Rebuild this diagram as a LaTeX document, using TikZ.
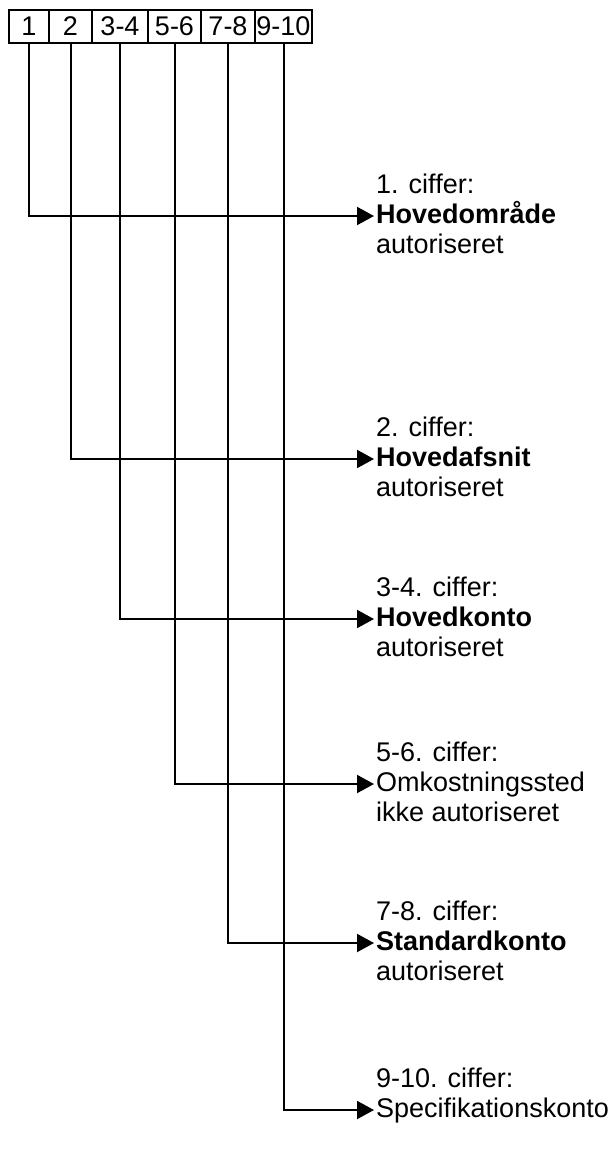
\documentclass[tikz,border=0pt]{standalone}
\usepackage{fontspec}
\setmainfont{Liberation Sans}
\usetikzlibrary{arrows.meta}

\tikzset{
  cell/.style={draw, line width=2pt, minimum height=33pt, inner sep=0pt,
    font=\fontsize{27}{30}\selectfont},
  lbl/.style={inner sep=0pt, anchor=base west, font=\fontsize{27}{30}\selectfont},
  link/.style={line width=2pt, -{Triangle[length=17pt,width=18pt]}},
}

\begin{document}
\begin{tikzpicture}[x=1pt,y=-1pt]
\useasboundingbox (0,0) rectangle (613,1162);

% digit groups of the account number
\node[cell, minimum width=40pt] (c1) at (29,26.5) {1};
\node[cell, minimum width=43pt] (c2) at (70.5,26.5) {2};
\node[cell, minimum width=56pt] (c3) at (120,26.5) {3-4};
\node[cell, minimum width=53pt] (c4) at (174.5,26.5) {5-6};
\node[cell, minimum width=54pt] (c5) at (228,26.5) {7-8};
\node[cell, minimum width=57pt] (c6) at (283.5,26.5) {9-10};

% arrow tips
\coordinate (a1) at (374,216);
\coordinate (a2) at (374,459);
\coordinate (a3) at (374,619);
\coordinate (a4) at (374,784);
\coordinate (a5) at (374,943);
\coordinate (a6) at (374,1110);

% descriptions
\node[lbl] (m1) at ([xshift=2pt,yshift=-7pt]a1) {\textbf{Hovedområde}};
\node[lbl] (h1) at ([yshift=30pt]m1.base west) {1. ciffer:};
\node[lbl] (b1) at ([yshift=-30pt]m1.base west) {autoriseret};

\node[lbl] (m2) at ([xshift=2pt,yshift=-7pt]a2) {\textbf{Hovedafsnit}};
\node[lbl] (h2) at ([yshift=30pt]m2.base west) {2. ciffer:};
\node[lbl] (b2) at ([yshift=-30pt]m2.base west) {autoriseret};

\node[lbl] (m3) at ([xshift=2pt,yshift=-7pt]a3) {\textbf{Hovedkonto}};
\node[lbl] (h3) at ([yshift=30pt]m3.base west) {3-4. ciffer:};
\node[lbl] (b3) at ([yshift=-30pt]m3.base west) {autoriseret};

\node[lbl] (m4) at ([xshift=2pt,yshift=-7pt]a4) {Omkostningssted};
\node[lbl] (h4) at ([yshift=30pt]m4.base west) {5-6. ciffer:};
\node[lbl] (b4) at ([yshift=-30pt]m4.base west) {ikke autoriseret};

\node[lbl] (m5) at ([xshift=2pt,yshift=-7pt]a5) {\textbf{Standardkonto}};
\node[lbl] (h5) at ([yshift=30pt]m5.base west) {7-8. ciffer:};
\node[lbl] (b5) at ([yshift=-30pt]m5.base west) {autoriseret};

\node[lbl] (m6) at ([xshift=2pt,yshift=-7pt]a6) {Specifikationskonto};
\node[lbl] (h6) at ([yshift=30pt]m6.base west) {9-10. ciffer:};

% connectors
\draw[link] (c1.south) |- (a1);
\draw[link] (c2.south) |- (a2);
\draw[link] (c3.south) |- (a3);
\draw[link] (c4.south) |- (a4);
\draw[link] (c5.south) |- (a5);
\draw[link] (c6.south) |- (a6);
\end{tikzpicture}
\end{document}
